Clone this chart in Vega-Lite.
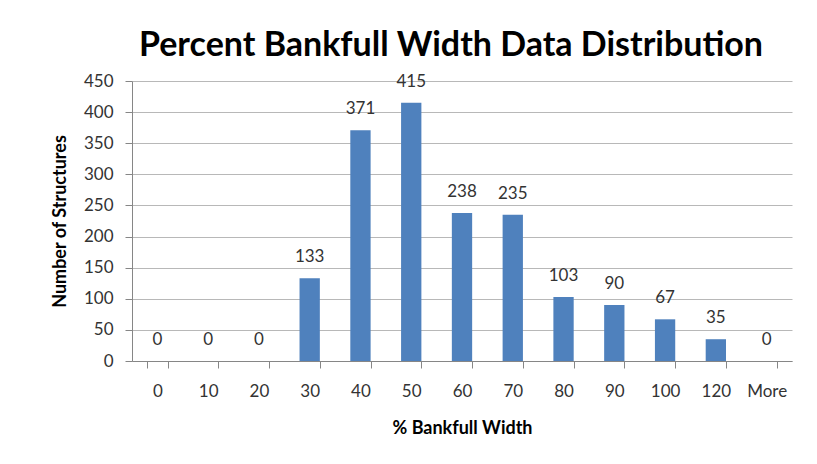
{
  "$schema": "https://vega.github.io/schema/vega-lite/v6.json",
  "autosize": {"type": "none"},
  "width": 660,
  "height": 280,
  "padding": {"left": 132, "top": 81, "right": 25, "bottom": 103},
  "background": "white",
  "title": {
    "text": "Percent Bankfull Width Data Distribution",
    "font": "Lato",
    "fontSize": 34,
    "fontWeight": "bold",
    "color": "#000000",
    "anchor": "middle",
    "dx": -11,
    "offset": 9
  },
  "data": {
    "values": [
      {"bin": "0", "count": 0},
      {"bin": "10", "count": 0},
      {"bin": "20", "count": 0},
      {"bin": "30", "count": 133},
      {"bin": "40", "count": 371},
      {"bin": "50", "count": 415},
      {"bin": "60", "count": 238},
      {"bin": "70", "count": 235},
      {"bin": "80", "count": 103},
      {"bin": "90", "count": 90},
      {"bin": "100", "count": 67},
      {"bin": "120", "count": 35},
      {"bin": "More", "count": 0}
    ]
  },
  "encoding": {
    "x": {
      "field": "bin",
      "type": "nominal",
      "sort": null,
      "scale": {"paddingInner": 0.6, "paddingOuter": 0.3},
      "axis": {
        "title": "% Bankfull Width",
        "titleFont": "Lato",
        "titleFontSize": 18,
        "titleFontWeight": "bold",
        "titleColor": "#000000",
        "titlePadding": 20,
        "labelFont": "Lato",
        "labelFontSize": 17,
        "labelColor": "#333333",
        "labelAngle": 0,
        "labelPadding": 15,
        "tickBand": "extent",
        "tickSize": 7,
        "tickColor": "#868686",
        "domainColor": "#868686",
        "grid": false
      }
    },
    "y": {
      "field": "count",
      "type": "quantitative",
      "scale": {"domain": [0, 450]},
      "axis": {
        "title": "Number of Structures",
        "titleFont": "Lato",
        "titleFontSize": 18,
        "titleFontWeight": "bold",
        "titleColor": "#000000",
        "titlePadding": 14,
        "values": [0, 50, 100, 150, 200, 250, 300, 350, 400, 450],
        "labelFont": "Lato",
        "labelFontSize": 17,
        "labelColor": "#333333",
        "labelPadding": 12,
        "tickSize": 7,
        "tickColor": "#868686",
        "domainColor": "#868686",
        "grid": true,
        "gridColor": "#b8b8b8"
      }
    }
  },
  "layer": [
    {"mark": {"type": "bar", "color": "#4F81BD"}},
    {
      "mark": {
        "type": "text",
        "font": "Lato",
        "fontSize": 17,
        "color": "#333333",
        "baseline": "middle",
        "dy": -21
      },
      "encoding": {"text": {"field": "count", "type": "quantitative"}}
    }
  ],
  "config": {"view": {"stroke": null}}
}
